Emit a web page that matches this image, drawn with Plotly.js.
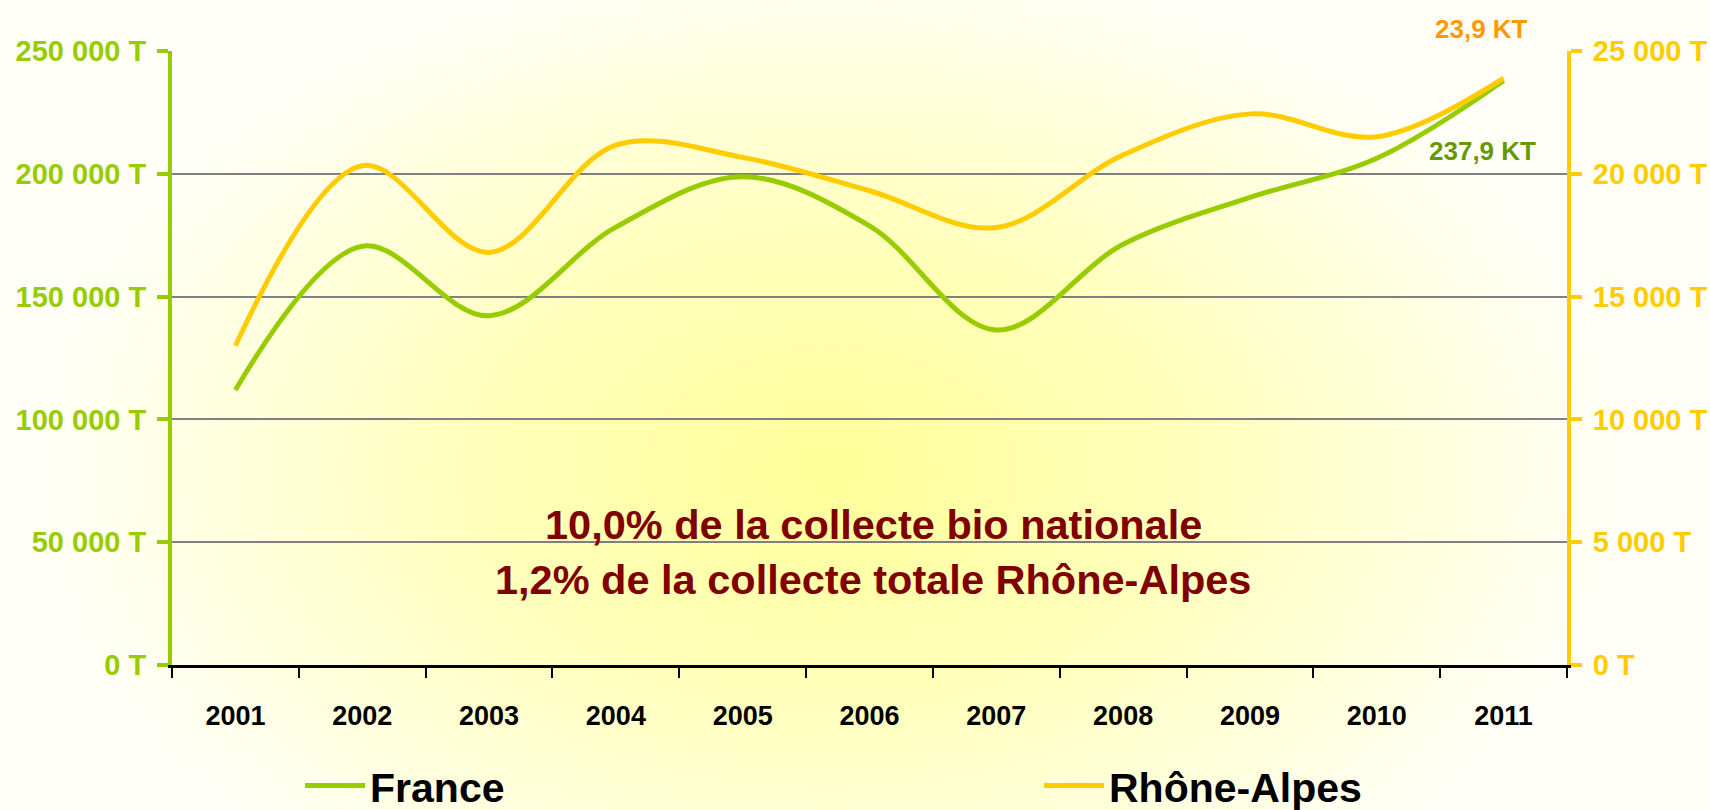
<!DOCTYPE html>
<html>
<head>
<meta charset="utf-8">
<script src="https://cdn.plot.ly/plotly-3.0.1.min.js"></script>
<style>
  html, body { margin: 0; padding: 0; }
  body {
    width: 1710px; height: 810px; overflow: hidden;
    background: radial-gradient(ellipse 800px 520px at 830px 470px, #FFFF99 0%, #FFFFBC 45%, #FFFFF8 100%);
    background-color: #FFFFF8;
  }
  #chart { width: 1710px; height: 810px; }
</style>
</head>
<body>
<div id="chart"></div>
<script>
const years = ['2001','2002','2003','2004','2005','2006','2007','2008','2009','2010','2011'];
const franceTonnes = [112000, 170500, 142200, 178300, 198800, 178800, 136400, 171300, 190400, 206300, 237900];
const rhoneAlpesTonnes = [13000, 20330, 16800, 21170, 20670, 19310, 17810, 20770, 22440, 21510, 23900];
const seriesNames = ['France', 'Rhône-Alpes'];
const endLabels = ['237,9 KT', '23,9 KT'];
const centerLines = ['10,0% de la collecte bio nationale', '1,2% de la collecte totale Rhône-Alpes'];

const FONT = '"Liberation Sans", Arial, sans-serif';
const GREEN = '#99CC00';
const YELLOW = '#FFCC00';

const traces = [
  {
    x: years, y: franceTonnes, name: seriesNames[0], type: 'scatter', mode: 'lines',
    line: { color: GREEN, width: 5, shape: 'spline', smoothing: 1 },
    yaxis: 'y', legend: 'legend', hoverinfo: 'skip'
  },
  {
    x: years, y: rhoneAlpesTonnes, name: seriesNames[1], type: 'scatter', mode: 'lines',
    line: { color: YELLOW, width: 5, shape: 'spline', smoothing: 1 },
    yaxis: 'y2', legend: 'legend2', hoverinfo: 'skip'
  }
];

const legendFont = { family: FONT, size: 41, color: '#000000', weight: 'bold' };

const layout = {
  width: 1710, height: 810,
  margin: { l: 172, r: 143, t: 51, b: 145, pad: 0, autoexpand: false },
  paper_bgcolor: 'rgba(0,0,0,0)',
  plot_bgcolor: 'rgba(0,0,0,0)',
  separators: ', ',
  font: { family: FONT },
  showlegend: true,
  legend: {
    orientation: 'h', x: 0.0918, xanchor: 'left', y: -0.197, yanchor: 'middle',
    bgcolor: 'rgba(0,0,0,0)', itemwidth: 60, font: legendFont
  },
  legend2: {
    orientation: 'h', x: 0.6215, xanchor: 'left', y: -0.197, yanchor: 'middle',
    bgcolor: 'rgba(0,0,0,0)', itemwidth: 60, font: legendFont
  },
  xaxis: {
    type: 'category',
    range: [-0.5, 10.5],
    tickson: 'boundaries',
    ticks: 'outside', ticklen: 10, tickwidth: 2, tickcolor: '#000000',
    showline: true, linecolor: '#000000', linewidth: 3,
    showgrid: false, zeroline: false,
    ticklabelstandoff: 25,
    tickfont: { family: FONT, size: 27, color: '#000000', weight: 'bold' }
  },
  yaxis: {
    range: [0, 250000], dtick: 50000, tick0: 0,
    tickformat: ',d', ticksuffix: ' T',
    showline: true, linecolor: GREEN, linewidth: 4,
    ticks: 'outside', ticklen: 11, tickwidth: 4, tickcolor: GREEN,
    showgrid: true, gridcolor: '#808080', gridwidth: 2,
    zeroline: false,
    ticklabelstandoff: 5,
    tickfont: { family: FONT, size: 29, color: GREEN, weight: 'bold' }
  },
  yaxis2: {
    overlaying: 'y', side: 'right',
    range: [0, 25000], dtick: 5000, tick0: 0,
    tickformat: ',d', ticksuffix: ' T',
    showline: true, linecolor: YELLOW, linewidth: 4,
    ticks: 'outside', ticklen: 11, tickwidth: 4, tickcolor: YELLOW,
    showgrid: false, zeroline: false,
    ticklabelstandoff: 5,
    tickfont: { family: FONT, size: 29, color: YELLOW, weight: 'bold' }
  },
  annotations: [
    { xref: 'paper', yref: 'paper', x: 0.9384, y: 1.0358, text: endLabels[1], showarrow: false,
      xanchor: 'center', yanchor: 'middle',
      font: { family: FONT, size: 26, color: '#FF9900', weight: 'bold' } },
    { xref: 'paper', yref: 'paper', x: 0.9391, y: 0.8371, text: endLabels[0], showarrow: false,
      xanchor: 'center', yanchor: 'middle',
      font: { family: FONT, size: 26, color: '#669900', weight: 'bold' } },
    { xref: 'paper', yref: 'paper', x: 0.5026, y: 0.2288, text: centerLines[0], showarrow: false,
      xanchor: 'center', yanchor: 'middle',
      font: { family: FONT, size: 41.5, color: '#800000', weight: 'bold' } },
    { xref: 'paper', yref: 'paper', x: 0.5026, y: 0.1400, text: centerLines[1], showarrow: false,
      xanchor: 'center', yanchor: 'middle',
      font: { family: FONT, size: 41.5, color: '#800000', weight: 'bold' } }
  ]
};

Plotly.newPlot('chart', traces, layout, { staticPlot: true, displayModeBar: false });
</script>
</body>
</html>
